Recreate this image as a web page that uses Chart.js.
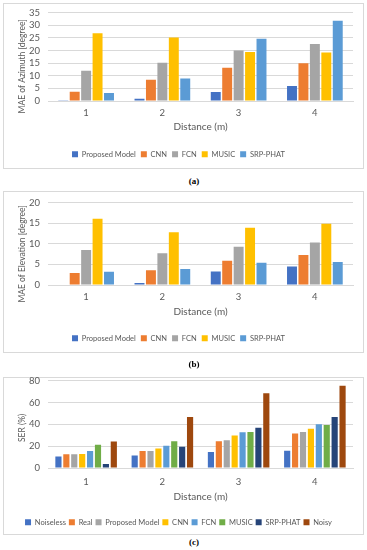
<!DOCTYPE html>
<html>
<head>
<meta charset="utf-8">
<script src="https://cdn.jsdelivr.net/npm/chart.js@4.4.1/dist/chart.umd.min.js"></script>
<style>
  body { margin: 0; background: #fff; width: 367px; height: 550px; position: relative; overflow: hidden; }
  .box { position: absolute; left: 3px; width: 359px; border: 1px solid #d9d9d9; }
  .cv { position: absolute; left: 4px; width: 359px; }
  .cap { position: absolute; left: 0; width: 388px; text-align: center; font: bold 9px "Liberation Serif", serif; color: #000; }
</style>
</head>
<body>
<div class="box" style="top:3px;height:164px"></div>
<div class="box" style="top:191px;height:160px"></div>
<div class="box" style="top:377px;height:156px"></div>
<div class="cv" style="top:-1px;height:169px"><canvas id="azChart"></canvas></div>
<div class="cv" style="top:189px;height:163px"><canvas id="elChart"></canvas></div>
<div class="cv" style="top:367px;height:169px"><canvas id="serChart"></canvas></div>
<div class="cap" style="top:176px">(a)</div>
<div class="cap" style="top:359px">(b)</div>
<div class="cap" style="top:537px">(c)</div>
<script>
// distances on the x axis
const distances = ['1', '2', '3', '4'];

// (a) MAE of azimuth [degree]
const azProposed = [0.3, 0.9, 3.6, 5.9];
const azCnn = [3.7, 8.4, 13.2, 15.0];
const azFcn = [12.0, 15.2, 20.0, 22.6];
const azMusic = [26.9, 25.2, 19.4, 19.2];
const azSrp = [3.2, 8.9, 24.7, 31.8];

// (b) MAE of elevation [degree]
const elProposed = [0.1, 0.5, 3.3, 4.5];
const elCnn = [2.9, 3.6, 5.9, 7.3];
const elFcn = [8.5, 7.7, 9.3, 10.3];
const elMusic = [16.1, 12.8, 13.9, 14.9];
const elSrp = [3.2, 3.9, 5.4, 5.6];

// (c) SER (%)
const serNoiseless = [10.6, 11.5, 14.6, 15.8];
const serReal = [12.5, 15.5, 24.6, 31.6];
const serProposed = [12.5, 15.5, 25.5, 33.1];
const serCnn = [12.8, 17.9, 29.8, 35.9];
const serFcn = [15.5, 20.4, 32.8, 40.1];
const serMusic = [21.3, 24.6, 33.1, 39.5];
const serSrp = [3.6, 19.5, 36.8, 46.8];
const serNoisy = [24.3, 46.8, 68.4, 75.4];

const textColor = '#595959';
const gridColor = '#d9d9d9';
Chart.defaults.font.family = 'Lato, "Open Sans", sans-serif';
Chart.defaults.color = textColor;
Chart.defaults.animation = false;

// vertical axis title, centred a little below the plot centre like the original
const yTitlePlugin = {
    id: 'yTitle',
    afterDraw(chart, args, opts) {
        const { ctx, chartArea } = chart;
        ctx.save();
        ctx.translate(opts.x, (chartArea.top + chartArea.bottom) / 2 + opts.shift);
        ctx.rotate(-Math.PI / 2);
        ctx.font = '8.5px Lato, sans-serif';
        ctx.fillStyle = textColor;
        ctx.textAlign = 'center';
        ctx.textBaseline = 'middle';
        ctx.fillText(opts.text, 0, 0);
        ctx.restore();
    }
};

const makeChart = (id, series, cfg) => {
    const ctx = document.getElementById(id).getContext('2d');
    return new Chart(ctx, {
        type: 'bar',
        data: {
            labels: distances,
            datasets: series.map(s => ({
                label: s[0],
                data: s[1],
                backgroundColor: s[2],
                borderWidth: 0,
                categoryPercentage: cfg.catPct,
                barPercentage: cfg.barPct
            }))
        },
        options: {
            responsive: true,
            maintainAspectRatio: false,
            layout: { padding: { top: 0, right: 10, left: 0, bottom: 0 } },
            plugins: {
                legend: {
                    position: 'bottom',
                    labels: {
                        boxWidth: 6,
                        boxHeight: 6,
                        padding: cfg.legendPad,
                        font: { size: 7.5 },
                        color: textColor
                    }
                },
                tooltip: { enabled: false },
                yTitle: { text: cfg.yTitle, x: 18, shift: cfg.titleShift }
            },
            scales: {
                x: {
                    grid: { display: false, drawTicks: false },
                    border: { color: gridColor },
                    ticks: { font: { size: 9.5 }, padding: cfg.tickPad },
                    title: {
                        display: true,
                        text: 'Distance (m)',
                        font: { size: 10 },
                        padding: { top: 0, bottom: cfg.titleBottom }
                    },
                    afterFit: function(scale) { scale.height = cfg.xHeight; }
                },
                y: {
                    min: 0,
                    max: cfg.yMax,
                    grid: { color: gridColor, drawTicks: false },
                    border: { display: false },
                    ticks: { stepSize: cfg.yStep, autoSkip: false, font: { size: 9.5 }, padding: 8 },
                    afterFit: function(scale) { scale.width = 44; }
                }
            }
        },
        plugins: [yTitlePlugin]
    });
};

makeChart('azChart', [
    ['Proposed Model', azProposed, '#4472c4'],
    ['CNN', azCnn, '#ed7d31'],
    ['FCN', azFcn, '#a5a5a5'],
    ['MUSIC', azMusic, '#ffc000'],
    ['SRP-PHAT', azSrp, '#5b9bd5']
], {
    yTitle: 'MAE of Azimuth [degree]', yMax: 35, yStep: 5, catPct: 0.75, barPct: 0.87,
    tickPad: 6, xHeight: 44.5, titleBottom: 12.5, legendPad: 5, titleShift: 9.5
});

makeChart('elChart', [
    ['Proposed Model', elProposed, '#4472c4'],
    ['CNN', elCnn, '#ed7d31'],
    ['FCN', elFcn, '#a5a5a5'],
    ['MUSIC', elMusic, '#ffc000'],
    ['SRP-PHAT', elSrp, '#5b9bd5']
], {
    yTitle: 'MAE of Elevation [degree]', yMax: 20, yStep: 5, catPct: 0.75, barPct: 0.87,
    tickPad: 6, xHeight: 44.5, titleBottom: 11.5, legendPad: 5, titleShift: 10
});

makeChart('serChart', [
    ['Noiseless', serNoiseless, '#4472c4'],
    ['Real', serReal, '#ed7d31'],
    ['Proposed Model', serProposed, '#a5a5a5'],
    ['CNN', serCnn, '#ffc000'],
    ['FCN', serFcn, '#5b9bd5'],
    ['MUSIC', serMusic, '#70ad47'],
    ['SRP-PHAT', serSrp, '#264478'],
    ['Noisy', serNoisy, '#9e480e']
], {
    yTitle: 'SER (%)', yMax: 80, yStep: 20, catPct: 0.83, barPct: 0.78,
    tickPad: 8, xHeight: 47.5, titleBottom: 12.5, legendPad: 3, titleShift: 3.5
});
</script>
</body>
</html>
